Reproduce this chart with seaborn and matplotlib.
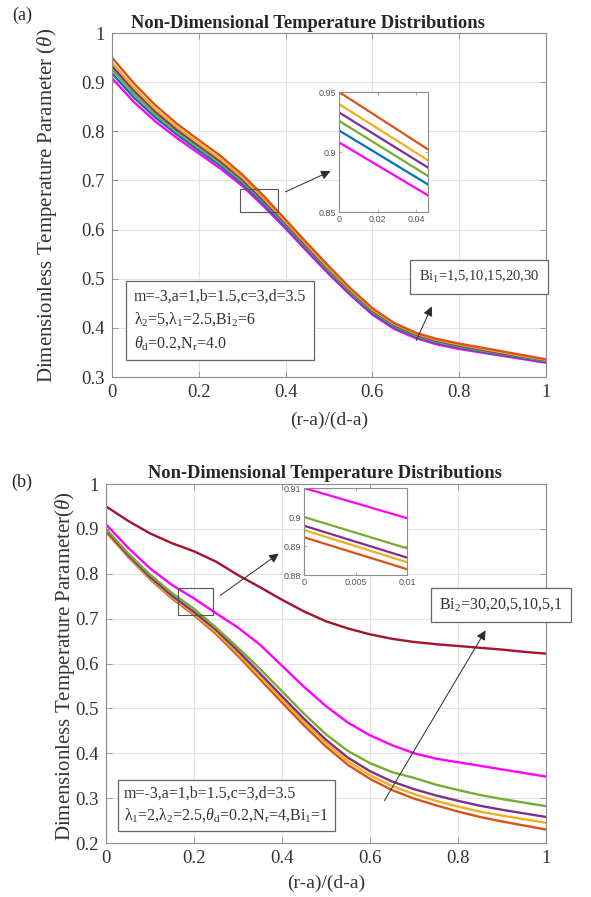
import numpy as np
import pandas as pd
import matplotlib
matplotlib.use("Agg")
import matplotlib.pyplot as plt
import seaborn as sns
from matplotlib.patches import Rectangle

# ---------------- data ----------------
x_pos = [0.00, 0.05, 0.10, 0.15, 0.20, 0.25, 0.30, 0.35, 0.40, 0.45, 0.50,
         0.55, 0.60, 0.65, 0.70, 0.75, 0.80, 0.85, 0.90, 0.95, 1.00]

# panel (a): Bi1 = 1, 5, 10, 15, 20, 30
a_bi1_1 = [0.908, 0.860, 0.820, 0.786, 0.755, 0.724, 0.689, 0.647, 0.602, 0.555, 0.509,
           0.466, 0.427, 0.398, 0.379, 0.366, 0.357, 0.350, 0.343, 0.336, 0.329]
a_bi1_5 = [0.918, 0.869, 0.828, 0.793, 0.761, 0.730, 0.694, 0.652, 0.606, 0.559, 0.513,
           0.469, 0.430, 0.401, 0.382, 0.369, 0.360, 0.352, 0.345, 0.338, 0.331]
a_bi1_10 = [0.926, 0.876, 0.834, 0.798, 0.766, 0.734, 0.698, 0.656, 0.610, 0.562, 0.516,
            0.472, 0.433, 0.404, 0.384, 0.371, 0.362, 0.354, 0.347, 0.340, 0.333]
a_bi1_15 = [0.933, 0.883, 0.840, 0.803, 0.771, 0.739, 0.702, 0.659, 0.613, 0.565, 0.519,
            0.475, 0.435, 0.406, 0.386, 0.373, 0.364, 0.356, 0.348, 0.341, 0.334]
a_bi1_20 = [0.940, 0.889, 0.845, 0.808, 0.775, 0.743, 0.706, 0.663, 0.616, 0.568, 0.521,
            0.477, 0.437, 0.408, 0.388, 0.375, 0.366, 0.358, 0.350, 0.342, 0.335]
a_bi1_30 = [0.950, 0.898, 0.853, 0.815, 0.782, 0.750, 0.712, 0.668, 0.620, 0.572, 0.525,
            0.480, 0.440, 0.410, 0.390, 0.377, 0.368, 0.360, 0.352, 0.344, 0.336]

# panel (b): Bi2 = 30, 20, 5, 10, 5, 1
b_bi2_30 = [0.893, 0.838, 0.788, 0.745, 0.708, 0.666, 0.617, 0.565, 0.513, 0.462, 0.415,
            0.374, 0.343, 0.318, 0.299, 0.284, 0.270, 0.258, 0.248, 0.239, 0.230]
b_bi2_20 = [0.8955, 0.840, 0.790, 0.748, 0.711, 0.670, 0.622, 0.571, 0.520, 0.470, 0.423,
            0.382, 0.351, 0.327, 0.309, 0.294, 0.281, 0.270, 0.261, 0.253, 0.245]
b_bi2_5a = [0.897, 0.842, 0.793, 0.751, 0.715, 0.675, 0.628, 0.578, 0.527, 0.477, 0.430,
            0.390, 0.360, 0.337, 0.320, 0.306, 0.294, 0.283, 0.274, 0.266, 0.258]
b_bi2_10 = [0.900, 0.846, 0.798, 0.757, 0.722, 0.680, 0.635, 0.588, 0.538, 0.488, 0.442,
            0.405, 0.378, 0.358, 0.345, 0.330, 0.318, 0.307, 0.298, 0.290, 0.282]
b_bi2_5b = [0.910, 0.858, 0.812, 0.775, 0.745, 0.712, 0.680, 0.642, 0.595, 0.548, 0.505,
            0.468, 0.440, 0.418, 0.400, 0.388, 0.380, 0.372, 0.364, 0.356, 0.348]
b_bi2_1 = [0.950, 0.918, 0.890, 0.868, 0.850, 0.827, 0.797, 0.770, 0.742, 0.716, 0.694,
           0.678, 0.665, 0.655, 0.648, 0.643, 0.639, 0.635, 0.631, 0.626, 0.622]

a_labels = ["1", "5", "10", "15", "20", "30"]
b_labels = ["30", "20", "5 (i)", "10", "5 (ii)", "1"]

x_ticks = [0, 0.2, 0.4, 0.6, 0.8, 1]
a_yticks = [0.3, 0.4, 0.5, 0.6, 0.7, 0.8, 0.9, 1.0]
b_yticks = [0.2, 0.3, 0.4, 0.5, 0.6, 0.7, 0.8, 0.9, 1.0]
a_inset_xticks = [0, 0.02, 0.04]
a_inset_yticks = [0.85, 0.9, 0.95]
b_inset_xticks = [0, 0.005, 0.01]
b_inset_yticks = [0.88, 0.89, 0.9, 0.91]

# MATLAB-like line colours
BLUE, ORANGE, YELLOW = "#0072BD", "#D95319", "#EDB120"
PURPLE, GREEN, DARKRED, MAGENTA = "#7E2F8E", "#77AC30", "#A2142F", "#FF00FF"
a_colors = [MAGENTA, BLUE, GREEN, PURPLE, YELLOW, ORANGE]
b_colors = [ORANGE, YELLOW, PURPLE, GREEN, MAGENTA, DARKRED]


def long_frame(series, labels):
    frames = []
    for lab, ys in zip(labels, series):
        frames.append(pd.DataFrame({"x": x_pos, "theta": ys, "curve": lab}))
    return pd.concat(frames, ignore_index=True)


df_a = long_frame([a_bi1_1, a_bi1_5, a_bi1_10, a_bi1_15, a_bi1_20, a_bi1_30], a_labels)
df_b = long_frame([b_bi2_30, b_bi2_20, b_bi2_5a, b_bi2_10, b_bi2_5b, b_bi2_1], b_labels)

# ---------------- style ----------------
sns.set_style("ticks")
plt.rcParams.update({
    "font.family": ["Liberation Serif", "DejaVu Serif"],
    "mathtext.fontset": "custom",
    "mathtext.rm": "Liberation Serif",
    "mathtext.it": "Liberation Serif:italic",
    "mathtext.bf": "Liberation Serif:bold",
})

W, H = 591, 897
fig = plt.figure(figsize=(W / 100, H / 100), dpi=100)


def px_axes(left, top, right, bottom):
    return fig.add_axes([left / W, 1 - bottom / H, (right - left) / W, (bottom - top) / H])


def fpos(x, y):
    return (x / W, 1 - y / H)


SPINE = "#8c8c8c"
GRID = "#e3e3e3"


def style_main(ax, yticks, ylim):
    ax.set_xlim(0, 1)
    ax.set_ylim(*ylim)
    ax.set_xticks(x_ticks)
    ax.set_xticklabels(["0", "0.2", "0.4", "0.6", "0.8", "1"])
    ax.set_yticks(yticks)
    ax.set_yticklabels([("1" if v == 1.0 else f"{v:g}") for v in yticks])
    ax.grid(True, color=GRID, linewidth=0.8)
    ax.set_axisbelow(True)
    ax.tick_params(direction="in", top=True, right=True, length=4, width=0.6,
                   color=SPINE, labelsize=13.5, labelcolor="#333333", pad=5)
    for s in ax.spines.values():
        s.set_color(SPINE)
        s.set_linewidth(0.8)
        s.set_visible(True)
    ax.set_xlabel("")
    ax.set_ylabel("")


def style_inset(ax, xt, yt, xlim, ylim, xtl, ytl):
    ax.set_xlim(*xlim)
    ax.set_ylim(*ylim)
    ax.set_xticks(xt)
    ax.set_xticklabels(xtl, fontfamily="Liberation Sans")
    ax.set_yticks(yt)
    ax.set_yticklabels(ytl, fontfamily="Liberation Sans")
    ax.tick_params(direction="in", top=True, right=True, length=2.5, width=0.5,
                   color=SPINE, labelsize=6.5, labelcolor="#555555", pad=2)
    for s in ax.spines.values():
        s.set_color(SPINE)
        s.set_linewidth(0.8)
        s.set_visible(True)
    ax.set_xlabel("")
    ax.set_ylabel("")
    ax.grid(False)


def arrow(x0, y0, x1, y1):
    fig.add_artist(matplotlib.patches.FancyArrowPatch(
        fpos(x0, y0), fpos(x1, y1), transform=fig.transFigure,
        arrowstyle="-|>", mutation_scale=14, color="#2b2b2b", linewidth=0.7))


# ---------------- panel (a) ----------------
ax_a = px_axes(112, 33, 546, 377)
sns.lineplot(data=df_a, x="x", y="theta", hue="curve", hue_order=a_labels,
             palette=a_colors, linewidth=1.7, legend=False, sort=False, ax=ax_a)
style_main(ax_a, a_yticks, (0.3, 1.0))
ax_a.add_patch(Rectangle((0.295, 0.636), 0.088, 0.047, fill=False,
                         edgecolor="#555555", linewidth=0.8, zorder=5))

ins_a = px_axes(339, 92, 428, 212)
sns.lineplot(data=df_a, x="x", y="theta", hue="curve", hue_order=a_labels,
             palette=a_colors, linewidth=1.6, legend=False, sort=False, ax=ins_a)
style_inset(ins_a, a_inset_xticks, a_inset_yticks, (0, 0.046), (0.85, 0.95),
            ["0", "0.02", "0.04"], ["0.85", "0.9", "0.95"])
arrow(283, 193, 333, 170)

fig.text(*fpos(308, 23), "Non-Dimensional Temperature Distributions",
         ha="center", va="center", fontsize=13.3, fontweight="bold")
fig.text(*fpos(22, 15), "(a)", ha="center", va="center", fontsize=13)
fig.text(*fpos(47, 205), r"Dimensionless Temperature Parameter ($\theta$)",
         rotation=90, ha="center", va="center", fontsize=15, color="#333333")
fig.text(*fpos(329, 420), "(r-a)/(d-a)", ha="center", va="center", fontsize=14,
         color="#333333")

fig.text(*fpos(134, 320),
         "m=-3,a=1,b=1.5,c=3,d=3.5\n"
         r"λ$_\mathrm{2}$=5,λ$_\mathrm{1}$=2.5,Bi$_\mathrm{2}$=6" "\n"
         r"$\theta_\mathrm{d}$=0.2,N$_\mathrm{r}$=4.0",
         ha="left", va="center", fontsize=11.5, linespacing=1.45, color="#333333",
         bbox=dict(boxstyle="square,pad=0.5", facecolor="white", edgecolor="#666666",
                   linewidth=0.9))
fig.text(*fpos(479, 277), r"Bi$_\mathrm{1}$=1,5,10,15,20,30", ha="center", va="center",
         fontsize=10.5, color="#333333", bbox=dict(boxstyle="square,pad=0.6",
                                                   facecolor="white", edgecolor="#666666",
                                                   linewidth=0.9))
arrow(415, 343, 433, 304)

# ---------------- panel (b) ----------------
ax_b = px_axes(106, 484, 546, 843)
sns.lineplot(data=df_b, x="x", y="theta", hue="curve", hue_order=b_labels,
             palette=b_colors, linewidth=1.7, legend=False, sort=False, ax=ax_b)
style_main(ax_b, b_yticks, (0.2, 1.0))
ax_b.add_patch(Rectangle((0.164, 0.708), 0.079, 0.060, fill=False,
                         edgecolor="#555555", linewidth=0.8, zorder=5))

ins_b = px_axes(304, 488, 407, 575)
sns.lineplot(data=df_b, x="x", y="theta", hue="curve", hue_order=b_labels,
             palette=b_colors, linewidth=1.6, legend=False, sort=False, ax=ins_b)
style_inset(ins_b, b_inset_xticks, b_inset_yticks, (0, 0.01), (0.88, 0.91),
            ["0", "0.005", "0.01"], ["0.88", "0.89", "0.9", "0.91"])
arrow(218, 597, 281, 552)

fig.text(*fpos(325, 473), "Non-Dimensional Temperature Distributions",
         ha="center", va="center", fontsize=13.3, fontweight="bold")
fig.text(*fpos(22, 482), "(b)", ha="center", va="center", fontsize=13)
fig.text(*fpos(65, 666), r"Dimensionless Temperature Parameter($\theta$)",
         rotation=90, ha="center", va="center", fontsize=15, color="#333333")
fig.text(*fpos(326, 883), "(r-a)/(d-a)", ha="center", va="center", fontsize=14,
         color="#333333")

fig.text(*fpos(124, 805),
         "m=-3,a=1,b=1.5,c=3,d=3.5\n"
         r"λ$_\mathrm{1}$=2,λ$_\mathrm{2}$=2.5,$\theta_\mathrm{d}$=0.2,N$_\mathrm{r}$=4,Bi$_\mathrm{1}$=1",
         ha="left", va="center", fontsize=11.5, linespacing=1.35, color="#333333",
         bbox=dict(boxstyle="square,pad=0.4", facecolor="white", edgecolor="#666666",
                   linewidth=0.9))
fig.text(*fpos(501, 605), r"Bi$_\mathrm{2}$=30,20,5,10,5,1", ha="center", va="center",
         fontsize=11.5, color="#333333", bbox=dict(boxstyle="square,pad=0.55",
                                                   facecolor="white", edgecolor="#666666",
                                                   linewidth=0.9))
arrow(383, 803, 487, 628)

fig.savefig("out.png", dpi=100, facecolor="white")
